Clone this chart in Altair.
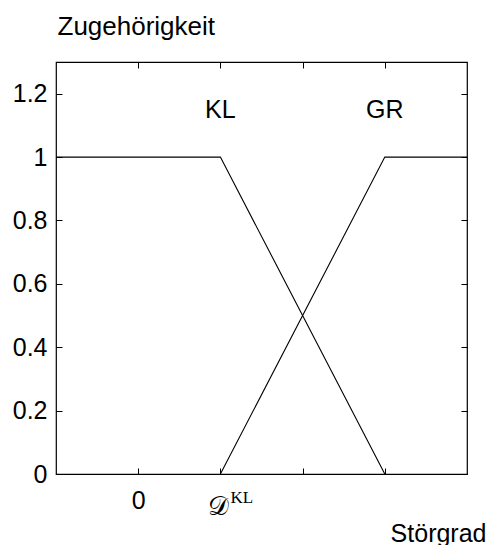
import altair as alt
import pandas as pd

# data
kl_x = [-1, 1, 3]
kl_y = [1, 1, 0]
gr_x = [1, 3, 4]
gr_y = [0, 1, 1]
set_names = ["KL", "GR"]
set_label_x = [1, 3]
set_label_y = [1.15, 1.15]
x_ticks = [0, 1, 2, 3]
y_ticks = [0, 0.2, 0.4, 0.6, 0.8, 1.0, 1.2]
x_domain = [-1, 4]
y_domain = [0, 1.3]

lines = pd.DataFrame(
    {"x": kl_x + gr_x, "y": kl_y + gr_y, "set": ["KL"] * 3 + ["GR"] * 3}
)
labels = pd.DataFrame({"x": set_label_x, "y": set_label_y, "name": set_names})

FONT = "Liberation Sans"
FS = 25

xs = alt.Scale(domain=x_domain, nice=False, zero=False)
ys = alt.Scale(domain=y_domain, nice=False, zero=False)

line_layer = alt.Chart(lines).mark_line(color="black", strokeWidth=1.1).encode(
    x=alt.X("x:Q", scale=xs, axis=alt.Axis(
        orient="bottom", values=x_ticks, offset=-6, tickSize=6, domain=False,
        grid=False, labelExpr="datum.value == 0 ? '0' : ''", labelPadding=14,
        labelFont=FONT, labelFontSize=FS, labelColor="black", tickColor="black",
        title="Störgrad", titleFont=FONT, titleFontSize=25, titleFontWeight="normal",
        titleColor="black", titleAnchor="end", titleAlign="right", titleX=430,
        titleY=73, titleBaseline="alphabetic")),
    y=alt.Y("y:Q", scale=ys, axis=alt.Axis(
        orient="left", values=y_ticks, offset=-6, tickSize=6, domain=False,
        grid=False, labelPadding=9, labelFont=FONT, labelFontSize=FS,
        labelColor="black", tickColor="black",
        labelExpr="datum.value == 0 ? '0' : datum.value == 1 ? '1' : format(datum.value, '.1f')",
        title="Zugehörigkeit", titleFont=FONT, titleFontSize=26,
        titleFontWeight="normal", titleColor="black", titleAngle=0,
        titleAlign="left", titleBaseline="alphabetic", titleX=-5, titleY=-28)),
    detail="set:N",
)

text_layer = alt.Chart(labels).mark_text(
    font=FONT, fontSize=FS, color="black", baseline="middle", align="center"
).encode(
    x=alt.X("x:Q", scale=xs, axis=alt.Axis(
        orient="top", values=x_ticks, offset=-6, tickSize=6, domain=False,
        grid=False, labels=False, title=None, tickColor="black")),
    y=alt.Y("y:Q", scale=ys, axis=alt.Axis(
        orient="right", values=y_ticks, offset=-6, tickSize=6, domain=False,
        grid=False, labels=False, title=None, tickColor="black")),
    text="name:N",
)

dkl = pd.DataFrame({"x": [1]})
d_layer = alt.Chart(dkl).mark_text(
    text="\U0001D49F", font="DejaVu Serif", fontSize=26, color="black",
    baseline="middle", align="center", dx=-2
).encode(
    x=alt.X("x:Q", scale=xs, axis=None),
    y=alt.value(445),
)
sup_layer = alt.Chart(dkl).mark_text(
    text="KL", font="Liberation Serif", fontSize=17, color="black",
    baseline="middle", align="left", dx=10
).encode(
    x=alt.X("x:Q", scale=xs, axis=None),
    y=alt.value(436),
)

chart = alt.layer(line_layer, text_layer, d_layer, sup_layer).resolve_scale(
    x="independent", y="independent"
).properties(
    width=411, height=412,
    autosize=alt.AutoSizeParams(type="none"),
    padding={"left": 48, "top": 54, "right": 19, "bottom": 71},
).configure_view(stroke="black", strokeWidth=1.2)

chart.save("out.html", embed_options={"renderer": "svg", "actions": False})
